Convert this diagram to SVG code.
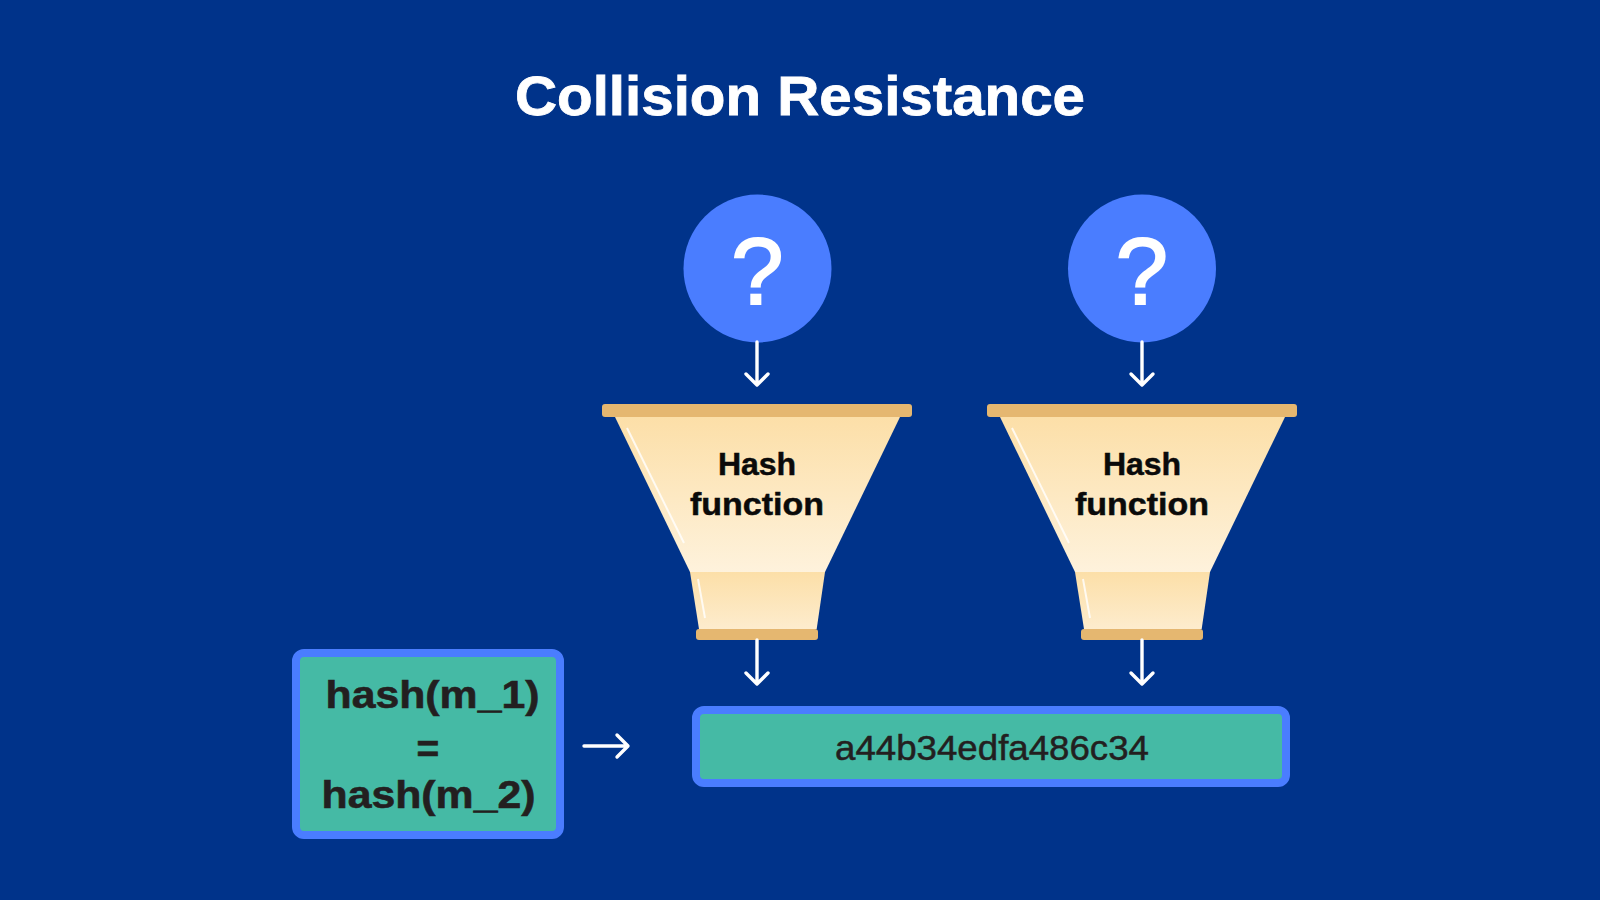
<svg xmlns="http://www.w3.org/2000/svg" width="1600" height="900" viewBox="0 0 1600 900">
<style>
.sans{font-family:"Liberation Sans",Arial,sans-serif}
.bar{fill:#e5b770}
.hl{stroke:#fff;stroke-width:2;fill:none;opacity:.8}
.q{fill:#fff;stroke:#fff;stroke-width:2;font-size:94px;text-anchor:middle}
.fn{fill:#0a0a0a;stroke:#0a0a0a;stroke-width:.5;font-size:32px;font-weight:700;text-anchor:middle}
.box{fill:#45baa5;stroke:#4a7dff;stroke-width:8}
.mono{fill:#231f20;stroke:#231f20;stroke-width:.6;font-size:39px;font-weight:700;text-anchor:middle}
.conn{stroke:#fff;stroke-width:3.4;fill:none;stroke-linecap:round;stroke-linejoin:round}
</style>
<defs>
<linearGradient id="g1" x1="0" y1="0" x2="0" y2="1"><stop offset="0" stop-color="#fcdfa8"/><stop offset="1" stop-color="#fef2dc"/></linearGradient>
<linearGradient id="g2" x1="0" y1="0" x2="0" y2="1"><stop offset="0" stop-color="#fcdfa8"/><stop offset="1" stop-color="#fdeccd"/></linearGradient>
</defs>
<rect width="1600" height="900" fill="#00338a"/>
<text id="title" class="sans" x="800" y="115" fill="#fff" stroke="#fff" stroke-width=".8" font-size="55" font-weight="700" text-anchor="middle" textLength="570" lengthAdjust="spacingAndGlyphs">Collision Resistance</text>
<g id="input-1"><circle cx="757.500" cy="268.500" r="74" fill="#4a7dff"/><text class="sans q" x="757.500" y="304">?</text></g>
<g id="input-2"><circle cx="1142" cy="268.500" r="74" fill="#4a7dff"/><text class="sans q" x="1142" y="304">?</text></g>
<g id="funnel-1">
<path d="M615 417H900L825 572H690Z" fill="url(#g1)"/>
<path d="M690 572H825L816.700 629H699Z" fill="url(#g2)"/>
<path class="hl" d="M627 428L684 543M698 579L705 618"/>
<rect class="bar" x="602" y="404" width="310" height="13" rx="3"/>
<rect class="bar" x="696" y="629" width="122" height="11" rx="3"/>
<text class="sans fn" x="757" y="475">Hash</text>
<text class="sans fn" x="757" y="515" textLength="134" lengthAdjust="spacingAndGlyphs">function</text>
</g>
<g id="funnel-2">
<path d="M1000 417H1285L1210 572H1075Z" fill="url(#g1)"/>
<path d="M1075 572H1210L1201.700 629H1084Z" fill="url(#g2)"/>
<path class="hl" d="M1012 428L1069 543M1083 579L1090 618"/>
<rect class="bar" x="987" y="404" width="310" height="13" rx="3"/>
<rect class="bar" x="1081" y="629" width="122" height="11" rx="3"/>
<text class="sans fn" x="1142" y="475">Hash</text>
<text class="sans fn" x="1142" y="515" textLength="134" lengthAdjust="spacingAndGlyphs">function</text>
</g>
<g id="equation">
<rect class="box" x="296" y="653" width="264" height="182" rx="8"/>
<text class="sans mono" x="432.500" y="708" textLength="214" lengthAdjust="spacingAndGlyphs">hash(m_1)</text>
<text class="sans mono" x="428" y="762">=</text>
<text class="sans mono" x="428.500" y="808" textLength="214" lengthAdjust="spacingAndGlyphs">hash(m_2)</text>
</g>
<g id="digest">
<rect class="box" x="696" y="710" width="590" height="73" rx="8"/>
<text class="sans" x="992" y="760" fill="#231f20" stroke="#231f20" stroke-width=".5" font-size="35" text-anchor="middle" textLength="314" lengthAdjust="spacingAndGlyphs">a44b34edfa486c34</text>
</g>
<g id="connectors" class="conn">
<path d="M757 342V384M746 374L757 385L768 374"/>
<path d="M1142 342V384M1131 374L1142 385L1153 374"/>
<path d="M757 640V683M746 673L757 684L768 673"/>
<path d="M1142 640V683M1131 673L1142 684L1153 673"/>
<path d="M584 746H627M617 735L628 746L617 757"/>
</g>
</svg>
